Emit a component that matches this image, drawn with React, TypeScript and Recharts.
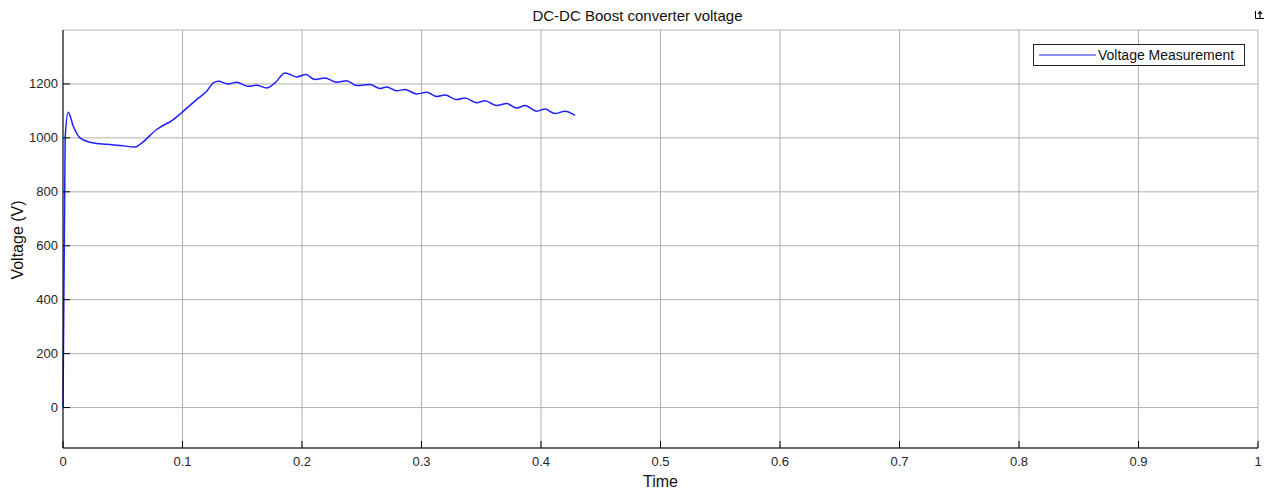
import React from 'react';
import { LineChart, Line, XAxis, YAxis, CartesianGrid, Legend } from 'recharts';

const times = [0, 0.0018, 0.0044, 0.0086, 0.0142, 0.0226, 0.0366, 0.0477, 0.0603, 0.0644, 0.0784, 0.0923, 0.1007, 0.1118, 0.1202, 0.1258, 0.13, 0.1383, 0.1453, 0.155, 0.162, 0.1704, 0.1774, 0.1858, 0.1956, 0.2033, 0.2109, 0.2192, 0.229, 0.2374, 0.2458, 0.2569, 0.2653, 0.2709, 0.2792, 0.2862, 0.296, 0.3044, 0.3127, 0.3197, 0.3294, 0.3364, 0.3462, 0.3531, 0.3629, 0.3713, 0.3797, 0.3866, 0.3964, 0.4033, 0.4117, 0.4201, 0.4285];
const voltages = [0, 1000, 1095, 1043, 1000, 984, 976, 972, 966, 976, 1031, 1068, 1099, 1142, 1173, 1204, 1210, 1200, 1206, 1191, 1195, 1185, 1204, 1241, 1226, 1235, 1216, 1222, 1206, 1212, 1194, 1198, 1183, 1189, 1175, 1179, 1163, 1169, 1153, 1159, 1142, 1148, 1130, 1138, 1120, 1127, 1111, 1120, 1099, 1107, 1090, 1099, 1083];
const xTicks = [0, 0.1, 0.2, 0.3, 0.4, 0.5, 0.6, 0.7, 0.8, 0.9, 1];
const yTicks = [0, 200, 400, 600, 800, 1000, 1200];
const seriesName = 'Voltage Measurement';
const titleText = 'DC-DC Boost converter voltage';
const xLabel = 'Time';
const yLabel = 'Voltage (V)';

const data = times.map((t, i) => ({ t, v: voltages[i] }));

const FONT = '"Liberation Sans", Arial, Helvetica, sans-serif';
const LINE_COLOR = '#2020ff';
const M = 8;
const TL = 7;

const BottomTick = (props: any) => {
  const { x, y, payload } = props;
  const ay = y - M;
  return (
    <g>
      <line x1={x} x2={x} y1={ay} y2={ay - TL} stroke="#000" strokeWidth={1} />
      <text x={x} y={ay + 18} textAnchor="middle" fontSize={13} fontFamily={FONT} fill="#262626">
        {String(payload.value)}
      </text>
    </g>
  );
};

const LeftTick = (props: any) => {
  const { x, y, payload } = props;
  const ax = x + M;
  return (
    <g>
      <line x1={ax} x2={ax + TL} y1={y} y2={y} stroke="#000" strokeWidth={1} />
      <text x={ax - 5} y={y} dy="0.35em" textAnchor="end" fontSize={13} fontFamily={FONT} fill="#262626">
        {String(payload.value)}
      </text>
    </g>
  );
};

const TopTick = (props: any) => {
  const { x, y } = props;
  return <line x1={x} x2={x} y1={y} y2={y + TL} stroke="#000" strokeWidth={1} />;
};

const RightTick = (props: any) => {
  const { x, y } = props;
  return <line x1={x} x2={x - TL} y1={y} y2={y} stroke="#000" strokeWidth={1} />;
};

const LegendBox = () => (
  <div
    style={{
      boxSizing: 'border-box',
      width: 212,
      height: 22,
      border: '1px solid #222',
      background: '#fff',
      display: 'flex',
      alignItems: 'center',
      fontFamily: FONT,
      fontSize: 14,
      color: '#111',
      whiteSpace: 'nowrap',
    }}
  >
    <svg width={57} height={4} style={{ marginLeft: 5, display: 'block' }}>
      <line x1={0} x2={57} y1={2} y2={2} stroke={LINE_COLOR} strokeWidth={1.2} />
    </svg>
    <span style={{ marginLeft: 2 }}>{seriesName}</span>
  </div>
);

export default function App() {
  return (
    <div style={{ position: 'relative', width: 1266, height: 481, fontFamily: FONT, background: '#fff' }}>
      <LineChart width={1266} height={481} data={data} margin={{ top: 22, right: 16, bottom: 0, left: 0 }}>
        <CartesianGrid stroke="#b0b0b0" strokeWidth={1} />
        <XAxis
          dataKey="t"
          type="number"
          domain={[0, 1]}
          ticks={xTicks}
          height={41}
          tickSize={0}
          tickMargin={M}
          tick={<BottomTick />}
          axisLine={{ stroke: '#000' }}
          tickLine={false}
          interval={0}
        />
        <XAxis
          xAxisId="top"
          orientation="top"
          dataKey="t"
          type="number"
          domain={[0, 1]}
          ticks={xTicks}
          height={0}
          tickSize={0}
          tickMargin={0}
          tick={<TopTick />}
          axisLine={{ stroke: '#000' }}
          tickLine={false}
          interval={0}
        />
        <YAxis
          type="number"
          domain={[-150, 1400]}
          ticks={yTicks}
          width={55}
          tickSize={0}
          tickMargin={M}
          tick={<LeftTick />}
          axisLine={{ stroke: '#000' }}
          tickLine={false}
          interval={0}
          allowDataOverflow
        />
        <YAxis
          yAxisId="right"
          orientation="right"
          type="number"
          domain={[-150, 1400]}
          ticks={yTicks}
          width={0}
          tickSize={0}
          tickMargin={0}
          tick={<RightTick />}
          axisLine={{ stroke: '#000' }}
          tickLine={false}
          interval={0}
          allowDataOverflow
        />
        <Legend
          layout="vertical"
          align="center"
          verticalAlign="middle"
          wrapperStyle={{ top: 36, left: 1025, width: 'auto', height: 'auto' }}
          content={<LegendBox />}
        />
        <Line
          type="monotone"
          dataKey="v"
          name={seriesName}
          stroke={LINE_COLOR}
          strokeWidth={1.5}
          dot={false}
          activeDot={false}
          isAnimationActive={false}
        />
      </LineChart>
      <div
        style={{
          position: 'absolute',
          left: 629.5,
          top: 0,
          transform: 'translateX(-50%)',
          fontSize: 15,
          lineHeight: '15px',
          whiteSpace: 'nowrap',
          color: '#111',
        }}
      >
        {titleText}
      </div>
      <div
        style={{
          position: 'absolute',
          left: 652.5,
          top: 466,
          transform: 'translateX(-50%)',
          fontSize: 16,
          lineHeight: '16px',
          whiteSpace: 'nowrap',
          color: '#111',
        }}
      >
        {xLabel}
      </div>
      <div
        style={{
          position: 'absolute',
          left: 9.5,
          top: 231.5,
          transform: 'translate(-50%, -50%) rotate(-90deg)',
          fontSize: 16,
          lineHeight: '16px',
          whiteSpace: 'nowrap',
          color: '#111',
        }}
      >
        {yLabel}
      </div>
      <svg style={{ position: 'absolute', left: 1247, top: 2 }} width={10} height={10}>
        <path d="M0.5 1 V8.5 H9" stroke="#000" strokeWidth={1} fill="none" />
        <path d="M5 8 V2 M3 4 L5 1.5 L7 4" stroke="#000" strokeWidth={1.2} fill="none" />
      </svg>
    </div>
  );
}
